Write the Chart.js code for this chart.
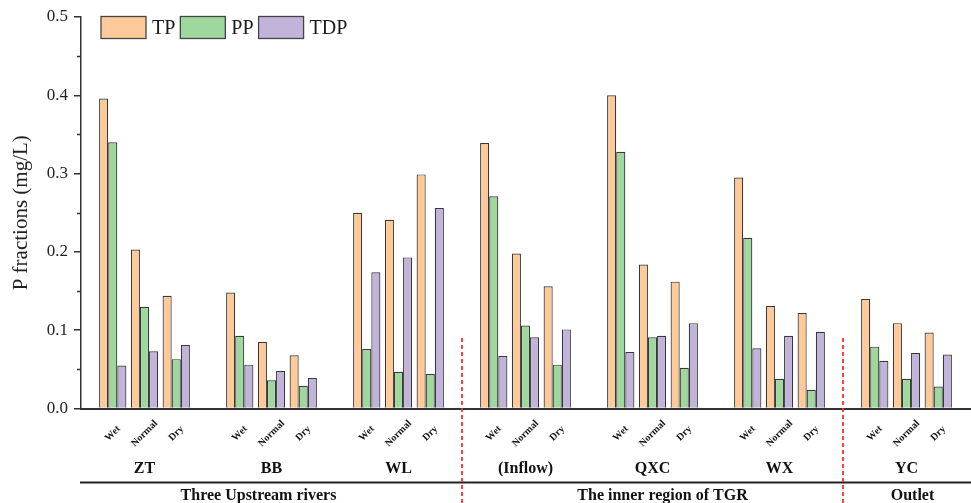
<!DOCTYPE html>
<html lang="en">
<head>
<meta charset="UTF-8">
<title>P fractions by site and season</title>
<script src="https://cdn.jsdelivr.net/npm/chart.js"></script>
<style>
  body { margin: 0; background: #fff; }
  #wrap { width: 971px; height: 503px; }
</style>
</head>
<body>
<div id="wrap"><canvas id="pChart"></canvas></div>
<script>
    // Sites, sampling periods and the region each group of sites belongs to
    const sites = ['ZT', 'BB', 'WL', '(Inflow)', 'QXC', 'WX', 'YC'];
    const seasons = ['Wet', 'Normal', 'Dry'];
    const regions = ['Three Upstream rivers', 'The inner region of TGR', 'Outlet'];
    const regionSiteCount = [3, 3, 1];

    // mg/L, site by site in the order Wet, Normal, Dry
    const tp  = [0.396, 0.203, 0.144,  0.148, 0.085, 0.068,  0.250, 0.241, 0.299,
                 0.339, 0.198, 0.156,  0.400, 0.184, 0.162,  0.295, 0.131, 0.122,
                 0.140, 0.109, 0.097];
    const pp  = [0.340, 0.130, 0.063,  0.093, 0.036, 0.029,  0.076, 0.047, 0.044,
                 0.271, 0.106, 0.056,  0.328, 0.091, 0.052,  0.218, 0.038, 0.024,
                 0.079, 0.038, 0.028];
    const tdp = [0.055, 0.073, 0.081,  0.056, 0.048, 0.039,  0.174, 0.193, 0.256,
                 0.067, 0.091, 0.101,  0.072, 0.093, 0.109,  0.077, 0.093, 0.098,
                 0.061, 0.071, 0.069];

    // y axis
    const yTicks = [0, 0.1, 0.2, 0.3, 0.4, 0.5];
    const yTickLabels = ['0.0', '0.1', '0.2', '0.3', '0.4', '0.5'];
    const yMinorTicks = [0.05, 0.15, 0.25, 0.35, 0.45];

    const serif = '"Liberation Serif", "Times New Roman", serif';
    const tpColor = '#FFCA99';
    const ppColor = '#9FD89F';
    const tdpColor = '#C1B3D9';
    // region titles sit a little off the centre of their groups in the original
    const regionLabelShift = [-13, 10, 6];

    // Category slots: one empty slot at the start and one after every site
    const labels = [''];
    const slot = [];
    sites.forEach(() => {
        seasons.forEach(season => {
            slot.push(labels.length);
            labels.push(season);
        });
        labels.push('');
    });

    function toSlots(values) {
        const out = labels.map(() => null);
        values.forEach((v, i) => { out[slot[i]] = v; });
        return out;
    }

    const decorPlugin = {
        id: 'decor',
        afterDraw(chart) {
            const { ctx, chartArea, scales: { x, y } } = chart;
            ctx.save();

            // minor ticks on the y axis
            ctx.strokeStyle = '#333';
            ctx.lineWidth = 1.5;
            yMinorTicks.forEach(v => {
                const py = Math.round(y.getPixelForValue(v)) + 0.5;
                ctx.beginPath();
                ctx.moveTo(chartArea.left - 4, py);
                ctx.lineTo(chartArea.left, py);
                ctx.stroke();
            });

            // rotated season labels
            ctx.fillStyle = '#111';
            ctx.font = 'bold 10px ' + serif;
            ctx.textAlign = 'center';
            ctx.textBaseline = 'middle';
            slot.forEach(i => {
                ctx.save();
                ctx.translate(x.getPixelForValue(i), chartArea.bottom + 25);
                ctx.rotate(-Math.PI / 4);
                ctx.fillText(labels[i], 0, 0);
                ctx.restore();
            });

            // site names under each group
            ctx.font = 'bold 16px ' + serif;
            ctx.textBaseline = 'alphabetic';
            sites.forEach((s, i) => {
                ctx.fillText(s, x.getPixelForValue(slot[i * 3 + 1]), chartArea.bottom + 64);
            });

            // separator line and region names
            ctx.strokeStyle = '#222';
            ctx.lineWidth = 1.8;
            ctx.beginPath();
            ctx.moveTo(chartArea.left - 1, chartArea.bottom + 74);
            ctx.lineTo(chart.width, chartArea.bottom + 74);
            ctx.stroke();

            let first = 0;
            regions.forEach((r, ri) => {
                const last = first + regionSiteCount[ri] * 3 - 1;
                const cx = (x.getPixelForValue(slot[first]) + x.getPixelForValue(slot[last])) / 2;
                ctx.fillText(r, cx + regionLabelShift[ri], chartArea.bottom + 91);
                // red dashed divider in the gap after the region
                if (ri < regions.length - 1) {
                    const px = x.getPixelForValue(slot[last] + 1);
                    ctx.save();
                    ctx.strokeStyle = 'rgb(255, 45, 45)';
                    ctx.lineWidth = 1.8;
                    ctx.setLineDash([4, 3]);
                    ctx.beginPath();
                    ctx.moveTo(px, y.getPixelForValue(0.09));
                    ctx.lineTo(px, chart.height);
                    ctx.stroke();
                    ctx.restore();
                }
                first = last + 1;
            });

            // legend in the top left corner of the plot
            let lx = chartArea.left + 20;
            const ly = chartArea.top - 0.5;
            ctx.font = '20px ' + serif;
            ctx.textAlign = 'left';
            ctx.textBaseline = 'middle';
            chart.data.datasets.forEach(ds => {
                ctx.fillStyle = ds.backgroundColor;
                ctx.fillRect(lx, ly, 45, 22);
                ctx.strokeStyle = '#444';
                ctx.lineWidth = 1.3;
                ctx.strokeRect(lx, ly, 45, 22);
                ctx.fillStyle = '#1a1a1a';
                ctx.fillText(ds.label, lx + 51, ly + 12);
                lx += 51 + ctx.measureText(ds.label).width + 5;
            });

            ctx.restore();
        }
    };

    function dataset(label, values, color) {
        return {
            label: label,
            data: toSlots(values),
            backgroundColor: color,
            borderColor: '#383838',
            borderWidth: 1.2,
            categoryPercentage: 0.86,
            barPercentage: 1.0
        };
    }

    new Chart(document.getElementById('pChart'), {
        type: 'bar',
        data: {
            labels: labels,
            datasets: [
                dataset('TP', tp, tpColor),
                dataset('PP', pp, ppColor),
                dataset('TDP', tdp, tdpColor)
            ]
        },
        options: {
            responsive: true,
            maintainAspectRatio: false,
            animation: false,
            layout: { padding: { top: 17, right: 1, left: 0, bottom: 0 } },
            plugins: {
                legend: { display: false },
                tooltip: { enabled: false }
            },
            scales: {
                x: {
                    offset: false,
                    afterFit(scale) { scale.height = 94.5; },
                    ticks: { display: false },
                    grid: { display: false },
                    border: { color: '#333', width: 2 }
                },
                y: {
                    min: 0,
                    max: 0.5,
                    afterFit(scale) { scale.width = 81; },
                    afterBuildTicks(scale) { scale.ticks = yTicks.map(v => ({ value: v })); },
                    ticks: {
                        callback: (v, i) => yTickLabels[i],
                        font: { family: serif, size: 17 },
                        color: '#222',
                        padding: 6
                    },
                    grid: { drawOnChartArea: false, tickLength: 7, color: '#333', lineWidth: 1.5 },
                    border: { color: '#333', width: 1.5 },
                    title: {
                        display: true,
                        text: 'P fractions (mg/L)',
                        font: { family: serif, size: 21 },
                        color: '#222',
                        padding: { top: 9, bottom: 0 }
                    }
                }
            }
        },
        plugins: [decorPlugin]
    });
</script>
</body>
</html>
